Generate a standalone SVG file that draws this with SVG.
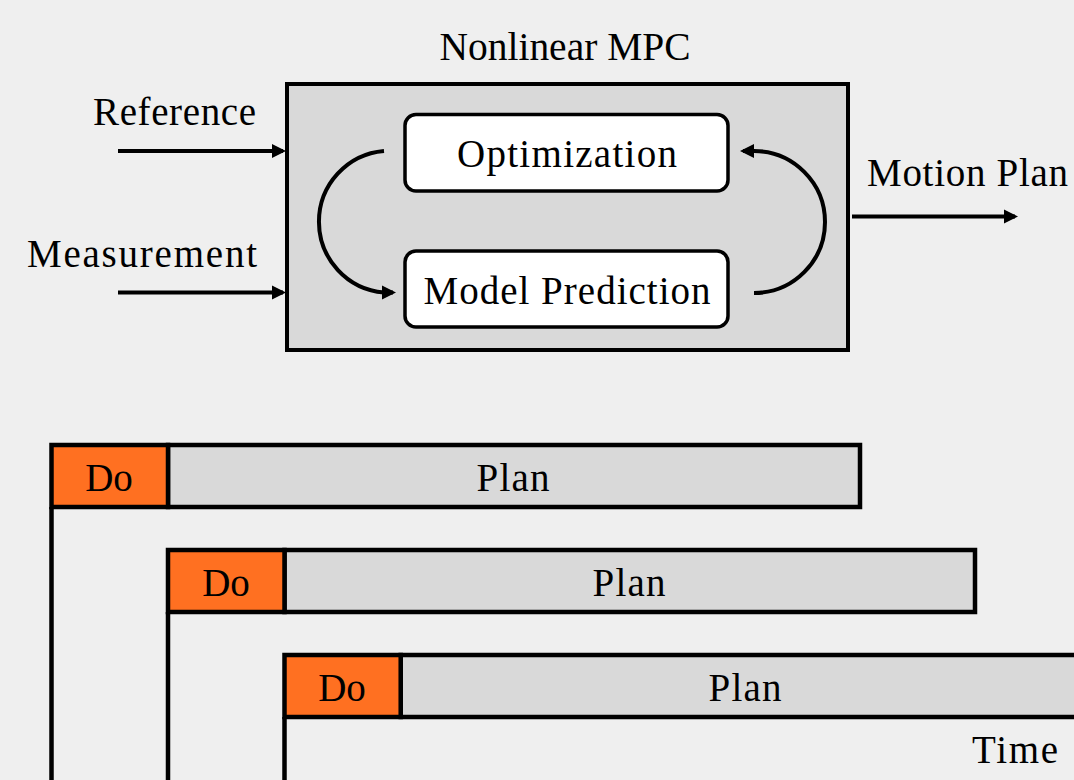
<svg xmlns="http://www.w3.org/2000/svg" width="1074" height="780" viewBox="0 0 1074 780">
<style>
.t{font-family:"Liberation Serif","Times New Roman",serif;font-size:39px;fill:#000}
.m{text-anchor:middle}
.box{fill:#D9D9D9;stroke:#000;stroke-width:4}
.rb{fill:#fff;stroke:#000;stroke-width:3.5}
.ln{fill:none;stroke:#000;stroke-width:4}
.do{fill:#FF7021;stroke:#000;stroke-width:4.5}
.pl{fill:#D9D9D9;stroke:#000;stroke-width:4.5}
.ax{fill:none;stroke:#000;stroke-width:4.5}
</style>
<defs>
<marker id="ah" markerUnits="userSpaceOnUse" markerWidth="15" markerHeight="15" refX="11" refY="7.5" orient="auto" viewBox="0 0 15 15">
<path d="M0,0.5 L14,7.5 L0,14.5 z" fill="#000"/>
</marker>
</defs>
<rect width="1074" height="780" fill="#EFEFEF"/>

<g id="mpc">
<rect class="box" x="287" y="84" width="561" height="266"/>
<text class="t m" x="565" y="60" textLength="251" lengthAdjust="spacingAndGlyphs">Nonlinear MPC</text>
</g>
<g id="optimization">
<rect class="rb" x="405" y="114.5" width="323" height="76.5" rx="11"/>
<text class="t m" x="567" y="167" textLength="220" lengthAdjust="spacing">Optimization</text>
</g>
<g id="model-prediction">
<rect class="rb" x="405" y="251" width="323" height="76" rx="11"/>
<text class="t m" x="567" y="304" textLength="287" lengthAdjust="spacing">Model Prediction</text>
</g>
<g id="reference-label">
<text class="t" x="93" y="125" textLength="163" lengthAdjust="spacing">Reference</text>
</g>
<g id="measurement-label">
<text class="t" x="27" y="267" textLength="230" lengthAdjust="spacing">Measurement</text>
</g>
<g id="motion-plan-label">
<text class="t" x="867" y="186" textLength="201" lengthAdjust="spacing">Motion Plan</text>
</g>

<g id="connectors">
<path class="ln" d="M118,151 L283,151" marker-end="url(#ah)"/>
<path class="ln" d="M118,292.5 L283,292.5" marker-end="url(#ah)"/>
<path class="ln" d="M852,216.5 L1015,216.5" marker-end="url(#ah)"/>
<path class="ln" d="M384,151 A71,71 0 0 0 384,292.5 L393,292.5" marker-end="url(#ah)"/>
<path class="ln" d="M754,293 A71,71 0 0 0 754,151 L743,151" marker-end="url(#ah)"/>
</g>

<g id="timeline">
<path class="ax" d="M51.5,507 V782 M168,612 V782 M284.5,717 V782"/>
</g>
<g id="row1">
<rect class="pl" x="168" y="445" width="692" height="62"/>
<rect class="do" x="51.5" y="445" width="116.5" height="62"/>
<text class="t m" x="109" y="491">Do</text>
<text class="t m" x="513" y="491" textLength="73" lengthAdjust="spacing">Plan</text>
</g>
<g id="row2">
<rect class="pl" x="284.5" y="550" width="690.5" height="62"/>
<rect class="do" x="168" y="550" width="116.5" height="62"/>
<text class="t m" x="226" y="596">Do</text>
<text class="t m" x="629" y="596" textLength="73" lengthAdjust="spacing">Plan</text>
</g>
<g id="row3">
<rect class="pl" x="400.7" y="655" width="690" height="62"/>
<rect class="do" x="284.5" y="655" width="116.2" height="62"/>
<text class="t m" x="342" y="701">Do</text>
<text class="t m" x="745" y="701" textLength="73" lengthAdjust="spacing">Plan</text>
</g>
<g id="time-label">
<text class="t" x="972" y="763" textLength="86" lengthAdjust="spacing">Time</text>
</g>
</svg>
